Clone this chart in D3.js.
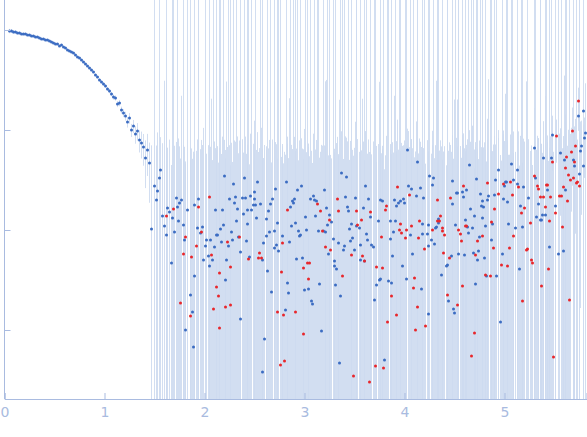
<!DOCTYPE html>
<html><head><meta charset="utf-8">
<script src="https://cdn.jsdelivr.net/npm/d3@7"></script>
<style>body{margin:0;background:#fff}</style></head>
<body><svg id="c" width="587" height="437"></svg>
<script>
// [q, log10 I, relative sigma]
const blueSmooth=[[0.05,-0.01,.05],[0.07,-0.01,.04],[0.09,-0.02,.04],[0.11,-0.02,.03],[0.13,-0.03,.03],[0.15,-0.03,.03],[0.17,-0.04,.02],[0.19,-0.04,.02],[0.21,-0.04,.02],[0.23,-0.05,.02],[0.25,-0.05,.02],[0.27,-0.06,.02],[0.29,-0.06,.02],[0.31,-0.07,.02],[0.33,-0.07,.02],[0.35,-0.08,.02],[0.37,-0.09,.02],[0.39,-0.09,.02],[0.41,-0.10,.02],[0.43,-0.10,.02],[0.45,-0.11,.02],[0.47,-0.12,.02],[0.49,-0.13,.02],[0.51,-0.14,.02],[0.53,-0.14,.02],[0.55,-0.16,.02],[0.57,-0.15,.02],[0.59,-0.17,.02],[0.61,-0.18,.02],[0.63,-0.20,.02],[0.65,-0.21,.02],[0.67,-0.22,.02],[0.69,-0.23,.02],[0.71,-0.25,.02],[0.73,-0.27,.02],[0.75,-0.28,.02],[0.77,-0.30,.02],[0.79,-0.32,.02],[0.81,-0.34,.025],[0.83,-0.36,.025],[0.85,-0.38,.025],[0.87,-0.40,.03],[0.89,-0.42,.03],[0.91,-0.45,.03],[0.93,-0.47,.03],[0.95,-0.50,.035],[0.97,-0.52,.035],[0.99,-0.54,.04],[1.01,-0.56,.04],[1.03,-0.59,.045],[1.05,-0.61,.05],[1.07,-0.64,.05],[1.09,-0.67,.06],[1.11,-0.68,.06],[1.13,-0.74,.07],[1.15,-0.73,.07],[1.17,-0.80,.08],[1.19,-0.83,.09],[1.21,-0.86,.1],[1.23,-0.92,.12],[1.25,-0.88,.12],[1.27,-1.00,.15],[1.29,-0.96,.15],[1.31,-1.04,.2],[1.33,-1.01,.2],[1.35,-1.10,.25],[1.37,-1.13,.3],[1.39,-1.17,.35],[1.41,-1.28,.5],[1.43,-1.20,.45],[1.45,-1.33,.6]];
// [q, log10 I]
const blueScatter=[[1.47,-1.99],[1.50,-1.56],[1.52,-1.70],[1.53,-1.61],[1.55,-1.48],[1.56,-1.40],[1.58,-1.86],[1.60,-1.96],[1.62,-2.05],[1.63,-1.78],[1.65,-1.82],[1.67,-2.33],[1.68,-1.88],[1.70,-2.02],[1.72,-1.68],[1.73,-1.77],[1.74,-1.91],[1.75,-1.73],[1.77,-1.70],[1.79,-1.95],[1.80,-2.10],[1.81,-3.00],[1.83,-1.80],
[1.86,-2.65],[1.88,-2.82],[1.89,-3.17],[1.90,-2.46],[1.90,-1.75],[1.93,-1.98],[1.94,-1.69],[1.96,-2.03],[1.98,-1.97],[1.99,-2.30],[2.01,-2.16],[2.02,-2.10],[2.04,-2.26],[2.05,-2.36],[2.06,-2.10],[2.08,-2.30],[2.10,-2.17],[2.12,-2.05],[2.11,-1.80],[2.13,-2.05],[2.16,-1.99],[2.17,-2.12],[2.18,-1.80],[2.19,-1.95],[2.20,-1.46],[2.21,-2.50],[2.22,-2.30],[2.24,-2.16],[2.25,-1.69],[2.27,-2.02],[2.28,-2.10],[2.29,-1.54],[2.30,-1.73],[2.31,-1.67],[2.32,-1.91],[2.33,-1.79],[2.34,-2.07],[2.36,-2.89],[2.36,-2.22],[2.38,-1.68],[2.39,-1.84],[2.40,-1.48],[2.41,-1.68],[2.42,-2.11],[2.43,-1.94],[2.43,-1.80],[2.45,-2.27],[2.46,-1.66],[2.47,-1.80],[2.49,-1.75],[2.50,-1.69],[2.50,-1.62],[2.51,-1.75],[2.52,-1.88],[2.53,-1.52],[2.56,-1.74],[2.58,-2.30],[2.59,-2.13],[2.60,-3.09],[2.58,-3.42],[2.62,-1.89],[2.62,-2.06],[2.63,-2.41],[2.64,-1.81],[2.65,-2.02],[2.66,-1.74],[2.67,-2.62],[2.68,-1.69],[2.70,-2.18],[2.70,-2.01],[2.71,-1.59],[2.72,-2.15],[2.73,-1.93],[2.74,-2.21],[2.78,-2.06],[2.81,-2.80],[2.82,-1.52],[2.83,-2.53],[2.84,-2.63],[2.85,-2.12],[2.86,-1.77],[2.87,-1.96],[2.88,-1.71],[2.89,-1.73],[2.90,-1.69],[2.91,-1.93],[2.92,-2.29],[2.93,-1.60],[2.94,-2.01],[2.95,-2.06],[2.96,-2.05],[2.97,-1.56],[2.98,-2.28],[3.00,-2.60],[3.01,-1.87],[3.02,-2.00],[3.04,-2.59],[3.06,-1.69],[3.07,-2.71],[3.08,-2.74],[3.09,-1.66],[3.10,-1.70],[3.11,-1.86],[3.12,-1.71],[3.14,-2.01],[3.15,-2.54],[3.17,-3.01],[3.19,-2.01],[3.20,-1.60],[3.21,-2.02],[3.22,-1.78],[3.23,-1.95],[3.24,-2.24],[3.25,-1.85],[3.27,-1.92],[3.29,-2.09],[3.30,-2.31],[3.30,-2.36],[3.31,-2.55],[3.32,-2.39],[3.34,-2.13],[3.35,-3.33],[3.36,-2.66],[3.37,-1.43],[3.39,-2.20],[3.40,-2.16],[3.41,-1.67],[3.42,-1.47],[3.43,-1.77],[3.44,-1.81],[3.45,-1.99],[3.46,-2.11],[3.47,-1.94],[3.48,-2.08],[3.50,-2.20],[3.51,-1.68],[3.52,-1.96],[3.55,-1.98],[3.56,-2.15],[3.56,-2.30],[3.59,-1.78],[3.60,-2.31],[3.61,-1.56],[3.62,-2.04],[3.63,-2.10],[3.64,-1.69],[3.66,-1.87],[3.67,-2.15],[3.69,-2.17],[3.70,-2.70],[3.72,-2.55],[3.74,-1.91],[3.75,-2.50],
[3.76,-1.70],[3.78,-1.71],[3.76,-2.49],[3.80,-3.30],[3.84,-2.51],[3.86,-1.91],[3.86,-2.09],[3.87,-2.53],[3.88,-2.26],[3.89,-2.02],[3.90,-1.70],[3.91,-1.91],[3.92,-1.76],[3.94,-1.73],[3.96,-1.71],[3.98,-2.36],[3.99,-1.69],[4.00,-1.73],[4.02,-2.49],[4.03,-1.20],[4.04,-1.56],[4.06,-2.05],[4.07,-1.59],[4.08,-2.24],[4.12,-1.66],[4.13,-1.32],[4.16,-1.58],[4.17,-2.59],[4.18,-1.94],[4.18,-2.04],[4.19,-1.68],[4.23,-2.04],[4.24,-1.95],[4.24,-2.16],[4.24,-2.84],[4.25,-1.46],[4.27,-2.10],[4.28,-1.55],[4.29,-1.48],[4.30,-2.14],[4.31,-1.98],[4.32,-1.97],[4.34,-1.89],[4.34,-1.93],[4.37,-2.45],[4.42,-2.36],[4.43,-2.35],[4.44,-2.71],[4.47,-2.26],[4.48,-1.51],[4.48,-1.74],[4.49,-2.79],[4.50,-2.83],[4.51,-1.95],[4.52,-1.63],[4.53,-1.63],[4.54,-2.24],[4.58,-1.62],[4.59,-1.67],[4.60,-2.25],[4.61,-1.90],[4.62,-1.60],[4.63,-1.97],[4.64,-2.03],[4.65,-1.35],[4.66,-1.79],[4.68,-1.98],[4.69,-2.23],[4.70,-1.86],[4.71,-2.54],[4.72,-1.49],[4.73,-2.30],[4.74,-2.21],[4.75,-2.07],[4.76,-1.64],[4.77,-1.76],[4.78,-1.71],[4.78,-1.88],[4.79,-1.77],[4.80,-2.28],[4.81,-1.96],[4.82,-2.46],[4.83,-1.70],[4.84,-1.66],[4.87,-2.10],[4.88,-1.94],[4.90,-1.65],[4.91,-1.50],[4.92,-2.46],[4.94,-1.40],[4.96,-2.92],[4.98,-2.24],[4.99,-1.69],[5.00,-1.56],[5.01,-1.52],[5.02,-1.52],[5.03,-1.72],[5.04,-1.94],[5.07,-1.34],[5.09,-1.50],[5.11,-1.98],[5.13,-1.40],[5.13,-1.54],[5.15,-2.39],[5.16,-1.76],[5.18,-1.97],[5.19,-1.57],[5.24,-1.68],[5.30,-1.18],[5.31,-1.48],[5.32,-1.87],[5.34,-1.74],[5.36,-1.90],[5.37,-1.90],[5.38,-1.85],[5.39,-1.28],[5.41,-1.85],[5.43,-1.60],[5.45,-2.17],[5.47,-1.28],[5.48,-1.05],[5.51,-1.76],[5.54,-2.24],[5.56,-1.23],[5.59,-2.21],[5.60,-1.30],[5.61,-1.60],[5.69,-1.30],[5.70,-1.36],[5.74,-0.86],[5.75,-1.44],[5.76,-1.21],[5.77,-1.16],[5.79,-0.81],[5.79,-1.36],[5.80,-1.08],[5.81,-1.03]];
const redScatter=[[1.62,-1.86],[1.69,-1.79],[1.76,-2.73],[1.79,-2.24],[1.81,-2.07],[1.86,-2.86],[1.87,-2.27],[1.92,-2.16],[1.94,-1.77],[1.97,-2.02],[2.05,-1.67],[2.07,-2.25],[2.09,-2.79],[2.12,-2.57],[2.14,-2.66],[2.15,-2.43],[2.15,-2.98],[2.21,-2.77],[2.23,-2.12],[2.26,-2.75],[2.26,-2.37],[2.35,-2.07],[2.44,-2.29],[2.54,-2.28],[2.55,-2.23],[2.57,-2.28],[2.73,-2.82],[2.77,-2.42],[2.78,-2.13],[2.76,-3.35],[2.80,-3.31],[2.79,-2.85],[2.83,-1.80],[2.91,-2.82],[2.99,-3.04],[2.99,-2.38],[3.03,-2.33],[3.05,-2.33],[3.04,-2.49],[3.13,-1.74],[3.16,-1.81],[3.18,-2.01],[3.21,-2.17],[3.25,-1.90],[3.26,-2.20],[3.33,-1.69],[3.34,-1.81],[3.38,-2.46],[3.47,-2.25],[3.49,-3.46],[3.52,-1.81],[3.53,-1.95],[3.57,-1.90],[3.58,-2.26],[3.60,-2.31],[3.65,-3.52],[3.66,-1.82],[3.71,-3.36],[3.72,-2.37],
[3.77,-2.07],[3.78,-2.38],[3.79,-3.38],[3.81,-1.80],[3.82,-1.76],[3.83,-2.92],[3.87,-2.66],[3.92,-2.85],[3.93,-1.57],[3.95,-2.00],[3.96,-1.94],[3.97,-2.03],[4.01,-2.08],[4.02,-2.00],[4.05,-1.65],[4.07,-1.96],[4.09,-2.58],[4.10,-2.48],[4.11,-3.00],[4.13,-2.77],[4.14,-2.08],[4.15,-1.91],[4.20,-2.19],[4.21,-2.96],[4.28,-2.00],[4.33,-1.70],[4.33,-1.91],[4.35,-1.91],[4.36,-1.86],[4.38,-1.98],[4.38,-2.01],[4.40,-2.05],[4.39,-2.23],[4.43,-2.65],[4.45,-2.28],[4.46,-1.68],[4.53,-2.75],[4.54,-2.00],[4.56,-2.04],[4.57,-2.11],[4.58,-2.56],[4.59,-1.56],[4.61,-1.96],[4.62,-1.96],[4.67,-3.26],[4.70,-3.03],[4.71,-2.25],[4.73,-2.11],[4.78,-2.06],[4.81,-2.45],[4.83,-1.53],[4.86,-2.46],[4.87,-1.92],[4.89,-2.18],[4.90,-1.79],[4.94,-1.64],[4.97,-2.35],[4.99,-1.54],[5.03,-2.36],[5.05,-2.18],[5.06,-1.52],[5.08,-1.65],[5.09,-2.06],[5.14,-1.57],[5.17,-1.83],[5.18,-2.71],[5.20,-1.78],[5.22,-2.20],[5.23,-2.19],[5.26,-1.93],[5.27,-2.30],[5.28,-2.33],[5.30,-1.46],[5.33,-1.56],[5.34,-1.59],[5.36,-1.67],[5.37,-2.56],[5.39,-1.67],[5.41,-1.77],[5.42,-1.55],[5.43,-1.55],[5.44,-2.39],[5.45,-1.91],[5.46,-1.67],[5.48,-1.32],[5.49,-3.27],[5.51,-1.83],[5.52,-1.06],[5.55,-1.66],[5.57,-1.66],[5.58,-1.97],[5.59,-1.57],[5.61,-1.38],[5.62,-1.27],[5.63,-1.71],[5.64,-1.45],[5.65,-2.70],[5.66,-1.50],[5.67,-1.22],[5.68,-1.01],[5.69,-1.48],[5.70,-1.32],[5.71,-1.16],[5.72,-1.53],[5.73,-1.52],[5.74,-0.71],[5.75,-1.56]];
// sigma pattern for noisy points (linear units)
const sigmaNoisy=[0.06,5,0.05,0.07,5,0.045,0.06,0.3,5,0.05,0.065,0.04,5,0.06,0.055,5,0.07,0.05,0.2,5,0.06,0.045,5,0.065,0.05,0.06,5,0.04,0.07,5,0.055,0.06,0.1,5,0.05,0.065,5,0.06,0.045,0.07,5,0.05];
const xTicks=[0,1,2,3,4,5];
const yTickVals=[1,0.1,0.01,0.001];

const svg=d3.select("#c");
const x=d3.scaleLinear().domain([0,5.82]).range([4.5,4.5+582]);
const y=d3.scaleLog().domain([Math.pow(10,0.3),Math.pow(10,-3.69)]).range([0,399]);
const axisCol="#a9bbe0";
const pts=[];
blueSmooth.forEach(d=>pts.push({q:d[0],I:Math.pow(10,d[1]),s:d[2]*Math.pow(10,d[1]),c:"#3b6cc2"}));
blueScatter.forEach((d,i)=>pts.push({q:d[0],I:Math.pow(10,d[1]),s:sigmaNoisy[i%sigmaNoisy.length],c:"#3b6cc2"}));
redScatter.forEach((d,i)=>pts.push({q:d[0],I:Math.pow(10,d[1]),s:sigmaNoisy[(i+7)%sigmaNoisy.length],c:"#e8262b"}));
const clipY=v=>Math.max(0,Math.min(399,v));
const g=svg.append("g");
g.selectAll("line.e").data(pts).join("line").attr("class","e")
 .attr("x1",d=>x(d.q)).attr("x2",d=>x(d.q))
 .attr("y1",d=>clipY(y(d.I+d.s)))
 .attr("y2",d=>d.I-d.s>0?clipY(y(d.I-d.s)):399)
 .attr("stroke","#cddaef").attr("stroke-width",0.9);
const order=pts.filter(p=>p.c!=="#e8262b").concat(pts.filter(p=>p.c==="#e8262b"));
g.selectAll("circle").data(order).join("circle")
 .attr("cx",d=>x(d.q)).attr("cy",d=>y(d.I)).attr("r",1.5).attr("fill",d=>d.c);
// axes
const xa=d3.axisBottom(x).tickValues(xTicks).tickSize(-6).tickFormat(d3.format("d"));
const ax=svg.append("g").attr("transform","translate(0,399)").call(xa);
ax.select(".domain").attr("stroke",axisCol);
ax.selectAll(".tick line").attr("stroke",axisCol);
ax.selectAll("text").attr("fill",axisCol).attr("font-size",14).attr("font-family","DejaVu Sans, sans-serif").attr("dy","1.1em");
const ya=d3.axisLeft(y).tickValues(yTickVals).tickSize(-6).tickFormat("");
const ay=svg.append("g").attr("transform","translate(4.5,0)").call(ya);
ay.select(".domain").attr("stroke",axisCol).attr("d","M0,0V399");
ay.selectAll(".tick line").attr("stroke",axisCol);
</script></body></html>
